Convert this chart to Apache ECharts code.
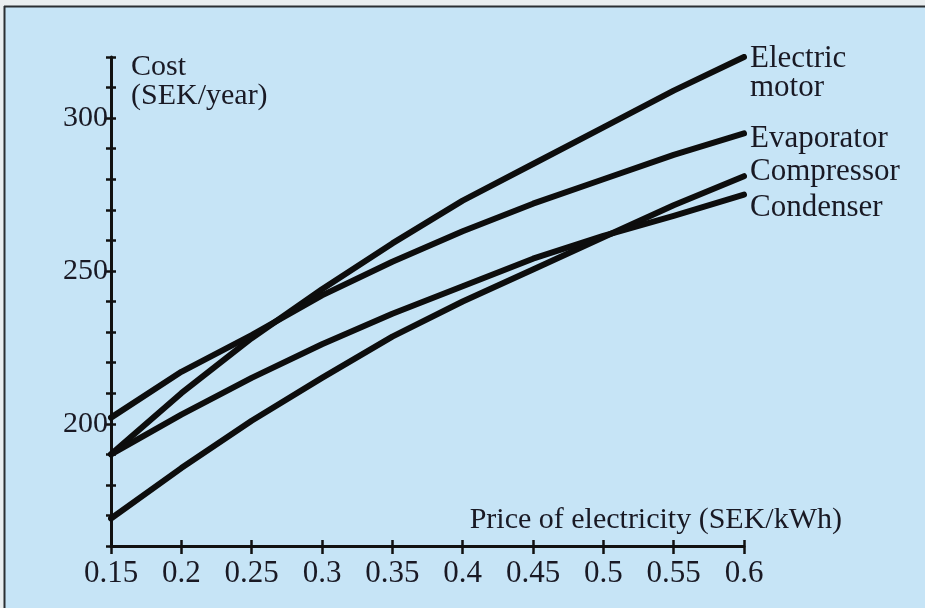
<!DOCTYPE html>
<html>
<head>
<meta charset="utf-8">
<script src="https://cdn.jsdelivr.net/npm/echarts@6/dist/echarts.min.js"></script>
<style>
html,body{margin:0;padding:0;background:#c6e4f6;}
#chart{width:925px;height:608px;}
</style>
</head>
<body>
<div id="chart"></div>
<script>
var prices = ['0.15','0.2','0.25','0.3','0.35','0.4','0.45','0.5','0.55','0.6'];
var electricMotor = [190, 210, 228, 244, 259, 273, 285, 297, 309, 320];
var evaporator    = [202, 217, 229, 242, 253, 263, 272, 280, 288, 295];
var compressor    = [169, 185.5, 201, 215, 228.5, 240, 250.5, 261, 271.5, 281];
var condenser     = [190, 203, 215, 226, 236, 245, 254, 261.5, 268, 275];
var seriesNames = ['Electric\nmotor', 'Evaporator', 'Compressor', 'Condenser'];
var yTitle = 'Cost\n(SEK/year)';
var xTitle = 'Price of electricity (SEK/kWh)';

var FONT = '"Liberation Serif", "DejaVu Serif", serif';
var INK = '#191924';
var chart = echarts.init(document.getElementById('chart'), null, {renderer:'canvas'});

function mkSeries(name, data, offY) {
  return {
    type: 'line', name: name, data: data, symbol: 'none', smooth: false,
    xAxisIndex: 0, yAxisIndex: 0,
    lineStyle: {color: '#0d0d0d', width: 6, cap: 'round', join: 'round'},
    endLabel: {show: true, formatter: name, distance: 6, offset: [0, offY],
      color: INK, fontFamily: FONT, fontSize: 31, lineHeight: 29, align: 'left', verticalAlign: 'middle'},
    emphasis: {disabled: true}, animation: false
  };
}

var option = {
  backgroundColor: '#c6e4f6',
  animation: false,
  grid: {left: 111, right: 181, top: 57, bottom: 62, containLabel: false},
  xAxis: [{
    type: 'category', data: prices, boundaryGap: false, position: 'bottom',
    axisLine: {show: true, lineStyle: {color: '#111', width: 3}},
    axisTick: {show: true, inside: false, length: 8, lineStyle: {color: '#111', width: 2.5}},
    axisLabel: {color: INK, fontFamily: FONT, fontSize: 31, margin: 12, interval: 0},
    splitLine: {show: false},
    name: xTitle, nameLocation: 'end', nameGap: 98, nameMoveOverlap: false,
    nameTextStyle: {color: INK, fontFamily: FONT, fontSize: 30, align: 'right', verticalAlign: 'bottom', padding: [0,0,11,0]}
  },{
    type: 'category', data: prices, boundaryGap: false, position: 'bottom',
    axisLine: {show: false},
    axisTick: {show: true, inside: true, length: 6, lineStyle: {color: '#111', width: 2.5}},
    axisLabel: {show: false}, splitLine: {show: false}
  }],
  yAxis: [{
    type: 'value', min: 160, max: 320, interval: 10,
    axisLine: {show: true, lineStyle: {color: '#111', width: 3}},
    axisTick: {show: true, inside: false, length: 5, lineStyle: {color: '#111', width: 2.5}},
    axisLabel: {color: INK, fontFamily: FONT, fontSize: 30, margin: 3,
      formatter: function(v){ return (v % 50 === 0 && v !== 160) ? String(v) : ''; }},
    splitLine: {show: false},
    name: yTitle, nameLocation: 'end', nameGap: 4, nameMoveOverlap: false,
    nameTextStyle: {color: INK, fontFamily: FONT, fontSize: 30, lineHeight: 29, align: 'left', verticalAlign: 'top', padding: [0,0,0,20]}
  },{
    type: 'value', min: 160, max: 320, interval: 10, position: 'left',
    axisLine: {show: false},
    axisTick: {show: true, inside: true, length: 5, lineStyle: {color: '#111', width: 2.5}},
    axisLabel: {show: false}, splitLine: {show: false}
  }],
  series: [
    mkSeries(seriesNames[0], electricMotor, 16),
    mkSeries(seriesNames[1], evaporator, 5),
    mkSeries(seriesNames[2], compressor, -4),
    mkSeries(seriesNames[3], condenser, 13)
  ],
  graphic: [
    {type: 'rect', shape: {x: 0, y: 0, width: 925, height: 6}, style: {fill: '#e9eef0'}, z: 100},
    {type: 'rect', shape: {x: 0, y: 0, width: 4, height: 608}, style: {fill: '#e9eef0'}, z: 100},
    {type: 'line', shape: {x1: 4, y1: 6.5, x2: 925, y2: 6.5}, style: {stroke: '#2a2f33', lineWidth: 2}, z: 101},
    {type: 'line', shape: {x1: 4.5, y1: 6, x2: 4.5, y2: 608}, style: {stroke: '#2a2f33', lineWidth: 2}, z: 101}
  ]
};
chart.setOption(option);
</script>
</body>
</html>
